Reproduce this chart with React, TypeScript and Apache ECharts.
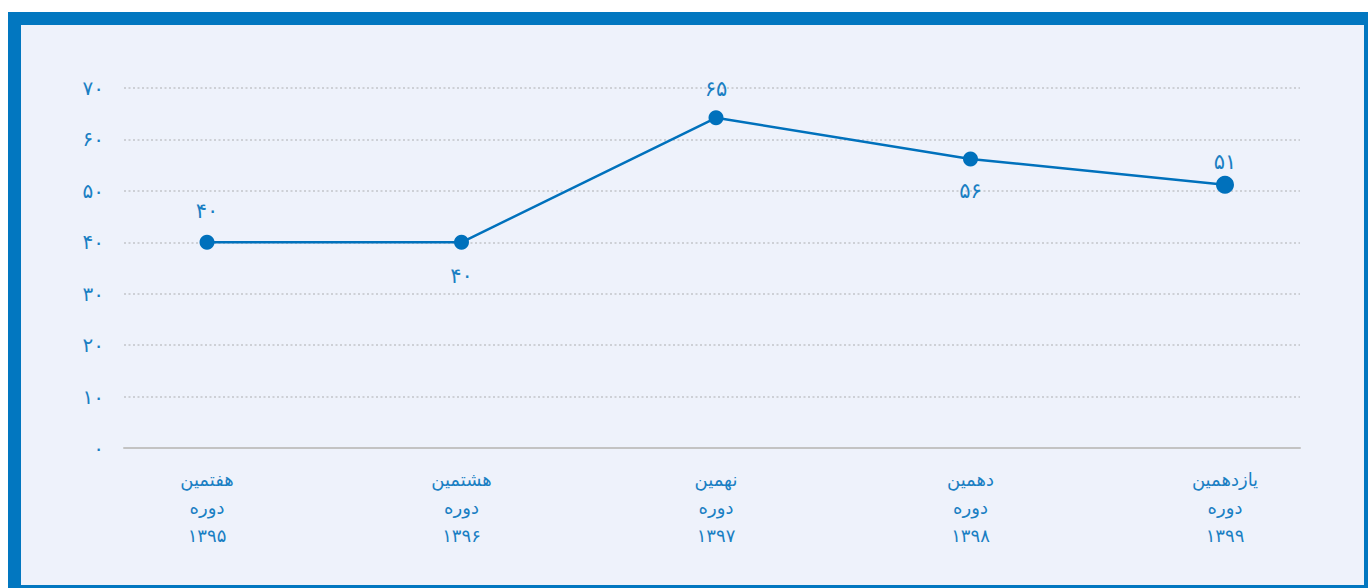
import React, { useEffect, useRef } from "react";
import * as echarts from "echarts";

const categories = ["هفتمین\nدوره\n۱۳۹۵", "هشتمین\nدوره\n۱۳۹۶", "نهمین\nدوره\n۱۳۹۷", "دهمین\nدوره\n۱۳۹۸", "یازدهمین\nدوره\n۱۳۹۹"];
const values = [40, 40, 64.2, 56.2, 51.2];
const valueLabels = ["۴۰", "۴۰", "۶۵", "۵۶", "۵۱"];
const labelPositions = ["top", "bottom", "top", "bottom", "top"];
const labelDistances = [13, 16, 11, 14, 3];
const yTickLabels: Record<number, string> = { 0: "۰", 10: "۱۰", 20: "۲۰", 30: "۳۰", 40: "۴۰", 50: "۵۰", 60: "۶۰", 70: "۷۰" };

const TEXT = "#1a7fc3";
const LINE = "#0071bc";
const FONT = "DejaVu Sans";

export default function App() {
  const ref = useRef<HTMLDivElement>(null);
  useEffect(() => {
    if (!ref.current) return;
    const chart = echarts.init(ref.current, undefined, { renderer: "svg" });
    chart.setOption({
      animation: false,
      grid: [
        { left: 124, right: 68, top: 88, bottom: 140 },
        { left: 207, right: 143, top: 88, bottom: 140 },
      ],
      xAxis: [
        {
          type: "value",
          gridIndex: 0,
          min: 0,
          max: 1,
          axisLine: { show: true, lineStyle: { color: "#c3c3c3", width: 2 } },
          axisTick: { show: false },
          axisLabel: { show: false },
          splitLine: { show: false },
        },
        {
          type: "category",
          gridIndex: 1,
          data: categories,
          boundaryGap: false,
          axisLine: { show: false },
          axisTick: { show: false },
          splitLine: { show: false },
          axisLabel: {
            color: TEXT,
            fontFamily: FONT,
            fontSize: 18,
            lineHeight: 28,
            margin: 17,
            align: "center",
          },
        },
      ],
      yAxis: [
        {
          type: "value",
          gridIndex: 0,
          min: 0,
          max: 70,
          interval: 10,
          axisLine: { show: false },
          axisTick: { show: false },
          axisLabel: {
            color: TEXT,
            fontFamily: FONT,
            fontSize: 20,
            margin: 20,
            formatter: (v: number) => yTickLabels[v] ?? String(v),
          },
          splitLine: {
            show: true,
            lineStyle: { color: "#cdd0d6", width: 2, type: [2, 2.5] },
          },
        },
        {
          type: "value",
          gridIndex: 1,
          min: 0,
          max: 70,
          interval: 10,
          show: false,
          splitLine: { show: false },
        },
      ],
      series: [
        {
          type: "line",
          xAxisIndex: 1,
          yAxisIndex: 1,
          data: values.map((v, i) => ({
            value: v,
            symbolSize: i === values.length - 1 ? 18 : 15,
            label: { position: labelPositions[i], distance: labelDistances[i] },
          })),
          symbol: "circle",
          lineStyle: { color: LINE, width: 2.5 },
          itemStyle: { color: LINE },
          label: {
            show: true,
            color: TEXT,
            fontFamily: FONT,
            fontSize: 21,
            formatter: (p: any) => valueLabels[p.dataIndex],
          },
        },
      ],
    });
    return () => chart.dispose();
  }, []);

  return (
    <div style={{ position: "fixed", left: 0, top: 0, width: 1368, height: 588, overflow: "hidden", background: "#ffffff" }}>
      <div
        style={{
          position: "absolute",
          left: 8,
          top: 12,
          width: 1369,
          height: 586,
          boxSizing: "border-box",
          border: "13px solid #0277c0",
          background: "#eef2fb",
        }}
      />
      <div ref={ref} style={{ position: "absolute", left: 0, top: 0, width: 1368, height: 588 }} />
    </div>
  );
}
